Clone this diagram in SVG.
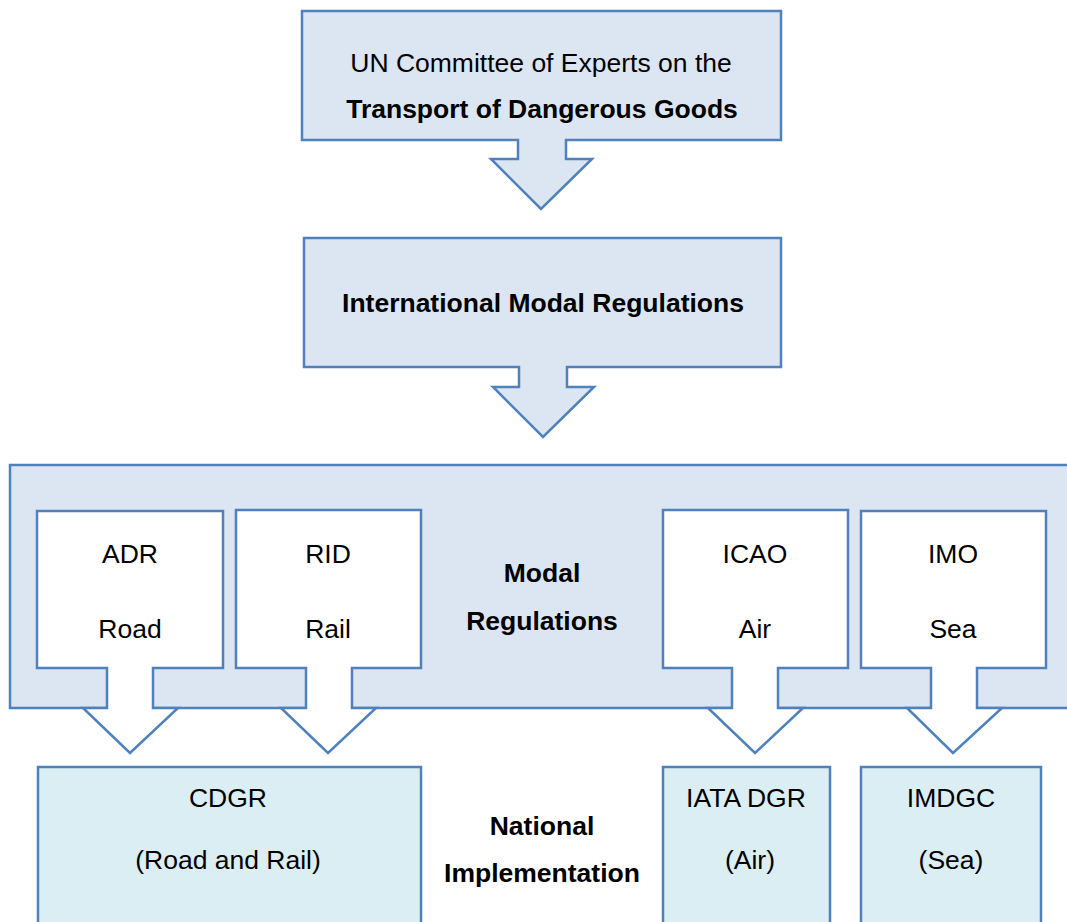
<svg xmlns="http://www.w3.org/2000/svg" width="1067" height="922" viewBox="0 0 1067 922">
<defs>
<style>
.blue{fill:#DCE6F2;stroke:#4F81BD;stroke-width:2.5;stroke-linejoin:miter}
.white{fill:#FFFFFF;stroke:#4F81BD;stroke-width:2.5}
.nat{fill:#DBEEF4;stroke:#4F81BD;stroke-width:2.5}
text{font-family:"Liberation Sans",Arial,sans-serif;fill:#000;text-anchor:middle;font-size:26.5px}
.b{font-weight:bold}
</style>
</defs>
<rect width="1067" height="922" fill="#FFFFFF"/>
<g id="un-committee">
<path class="blue" d="M302,11 H781 V140 H566 V159 H592 L541,209 L491,159 H518 V140 H302 Z"/>
<text x="541" y="72">UN Committee of Experts on the</text>
<text class="b" x="542" y="118">Transport of Dangerous Goods</text>
</g>
<g id="international">
<path class="blue" d="M304,238 H781 V367 H567 V387 H594 L543,437 L493,387 H519 V367 H304 Z"/>
<text class="b" x="543" y="312">International Modal Regulations</text>
</g>
<g id="modal">
<rect class="blue" x="10" y="465" width="1070" height="243"/>
<text class="b" x="542" y="582">Modal</text>
<text class="b" x="542" y="630">Regulations</text>
</g>
<g id="connectors">
<g id="adr">
<path class="white" d="M37,511 H223 V668 H153 V708 H178 L130,753 L83,708 H107 V668 H37 Z"/>
<text x="130" y="563">ADR</text>
<text x="130" y="638">Road</text>
</g>
<g id="rid">
<path class="white" d="M236,510 H421 V668 H352 V708 H376 L328,753 L281,708 H306 V668 H236 Z"/>
<text x="328" y="563">RID</text>
<text x="328" y="638">Rail</text>
</g>
<g id="icao">
<path class="white" d="M663,510 H848 V668 H778 V708 H803 L755,753 L708,708 H732 V668 H663 Z"/>
<text x="755" y="563">ICAO</text>
<text x="755" y="638">Air</text>
</g>
<g id="imo">
<path class="white" d="M861,511 H1046 V668 H977 V708 H1002 L953,753 L907,708 H931 V668 H861 Z"/>
<text x="953" y="563">IMO</text>
<text x="953" y="638">Sea</text>
</g>
</g>
<g id="cdgr">
<rect class="nat" x="38" y="767" width="383" height="160"/>
<text x="228" y="807">CDGR</text>
<text x="228" y="869">(Road and Rail)</text>
</g>
<g id="national">
<text class="b" x="542" y="835">National</text>
<text class="b" x="542" y="882">Implementation</text>
</g>
<g id="iata">
<rect class="nat" x="663" y="767" width="167" height="160"/>
<text x="746" y="807">IATA DGR</text>
<text x="750" y="869">(Air)</text>
</g>
<g id="imdgc">
<rect class="nat" x="861" y="767" width="180" height="160"/>
<text x="951" y="807">IMDGC</text>
<text x="951" y="869">(Sea)</text>
</g>
</svg>
